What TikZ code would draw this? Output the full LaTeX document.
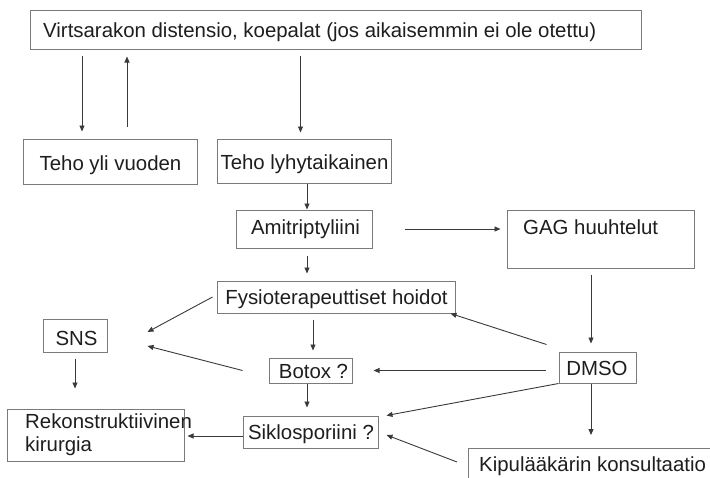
\documentclass[tikz,border=0pt]{standalone}
\usepackage{fontspec}
\setmainfont{Liberation Sans}
\usetikzlibrary{arrows.meta}
\definecolor{boxc}{HTML}{7A7A7A}
\definecolor{linec}{HTML}{3A3A3A}
\definecolor{txtc}{HTML}{1E1E1E}
\begin{document}
\begin{tikzpicture}[x=1pt,y=1pt,
  box/.style={draw=boxc, line width=1pt, inner sep=0pt},
  lbl/.style={text=txtc, font=\fontsize{20.4pt}{23pt}\selectfont, inner sep=0pt},
  arr/.style={draw=linec, line width=0.9pt, -{Triangle[length=6pt,width=5pt]}}]
\clip (0,0) rectangle (710,-477);
\fill[white] (0,0) rectangle (710,-477);

% boxes
\node[box, minimum width=611pt, minimum height=39pt] (top) at (335.5,-29.5) {};
\node[box, minimum width=174pt, minimum height=45pt] (tehoyli) at (110,-161.5) {};
\node[box, minimum width=174pt, minimum height=44pt] (tehol) at (304,-161) {};
\node[box, minimum width=136pt, minimum height=38pt] (amit) at (304,-229) {};
\node[box, minimum width=187pt, minimum height=58pt] (gag) at (600.5,-239) {};
\node[box, minimum width=238pt, minimum height=32pt] (fysio) at (336,-297) {};
\node[box, minimum width=64pt, minimum height=33pt] (sns) at (75,-335.5) {};
\node[box, minimum width=83pt, minimum height=25pt] (botox) at (310.5,-370.5) {};
\node[box, minimum width=77pt, minimum height=31pt] (dmso) at (597.5,-367.5) {};
\node[box, minimum width=135pt, minimum height=32pt] (siklo) at (310.5,-432) {};
\node[box, minimum width=177pt, minimum height=52pt] (rekon) at (95.5,-435) {};
\node[box, anchor=north west, minimum width=300pt, minimum height=60pt] (kipu) at (468,-448) {};

% texts
\node[lbl, anchor=base west] (toptxt) at (43,-37) {Virtsarakon distensio, koepalat (jos aikaisemmin ei ole otettu)};
\node[lbl, anchor=base] (tehoylitxt) at (110.5,-170) {Teho yli vuoden};
\node[lbl, anchor=base] (teholtxt) at (304.5,-169.5) {Teho lyhytaikainen};
\node[lbl, anchor=base] (amittxt) at (305.5,-234) {Amitriptyliini};
\node[lbl, anchor=base west] (gagtxt) at (523,-234) {GAG huuhtelut};
\node[lbl, anchor=base] (fysiotxt) at (336.5,-304) {Fysioterapeuttiset hoidot};
\node[lbl, anchor=base] (snstxt) at (76.5,-345) {SNS};
\node[lbl, anchor=base] (botoxtxt) at (313.5,-378) {Botox ?};
\node[lbl, anchor=base] (dmsotxt) at (597,-375) {DMSO};
\node[lbl, anchor=base] (siklotxt) at (311,-439) {Siklosporiini ?};
\node[lbl, anchor=base west] (rekontxta) at (25,-428) {Rekonstruktiivinen};
\node[lbl, anchor=base west] (rekontxtb) at (25,-451) {kirurgia};
\node[lbl, anchor=base west] (kiputxt) at (479,-471) {Kipulääkärin konsultaatio};

% connectors
\draw[arr, shorten <=6pt, shorten >=7pt] (top.south -| 82,0) -- (tehoyli.north -| 82,0);
\draw[arr, shorten <=12pt, shorten >=7pt] (tehoyli.north -| 127,0) -- (top.south -| 127,0);
\draw[arr, shorten <=6pt, shorten >=6pt] (top.south -| 300.5,0) -- (tehol.north -| 300.5,0);
\draw[arr] (tehol.south -| 307,0) -- (amit.north -| 307,0);
\draw[arr, shorten <=32pt, shorten >=6pt] (amit.east) -- (gag.west |- amit.east);
\draw[arr, shorten <=7pt, shorten >=7pt] (amit.south -| 307,0) -- (fysio.north -| 307,0);
\draw[arr, shorten <=6pt, shorten >=8pt] (gag.south -| 591,0) -- (dmso.north -| 591,0);
\draw[arr] ([shift={(-12pt,7pt)}]dmso.north west) -- ([xshift=-5pt]fysio.south east);
\draw[arr] ([xshift=-4pt]fysio.west) -- ([shift={(40pt,3.5pt)}]sns.east);
\draw[arr, shorten <=6pt, shorten >=7pt] (fysio.south -| 313,0) -- (botox.north -| 313,0);
\draw[arr] ([xshift=-26pt]botox.west) -- ([shift={(40pt,-10.5pt)}]sns.east);
\draw[arr, shorten <=13pt, shorten >=21pt] (dmso.west |- botox.east) -- (botox.east);
\draw[arr, shorten >=8pt] (botox.south -| 307,0) -- (siklo.north -| 307,0);
\draw[arr] (dmso.south west) -- ([xshift=8pt]siklo.north east);
\draw[arr, shorten >=13pt] (dmso.south -| 591,0) -- (kipu.north -| 591,0);
\draw[arr] ([shift={(-11pt,-14pt)}]kipu.north west) -- ([shift={(8pt,-3pt)}]siklo.east);
\draw[arr, shorten >=3pt] (siklo.west |- 0,-436) -- (rekon.east |- 0,-436);
\draw[arr, shorten <=6pt, shorten >=20pt] (sns.south) -- (rekon.north -| sns.south);
\end{tikzpicture}
\end{document}
